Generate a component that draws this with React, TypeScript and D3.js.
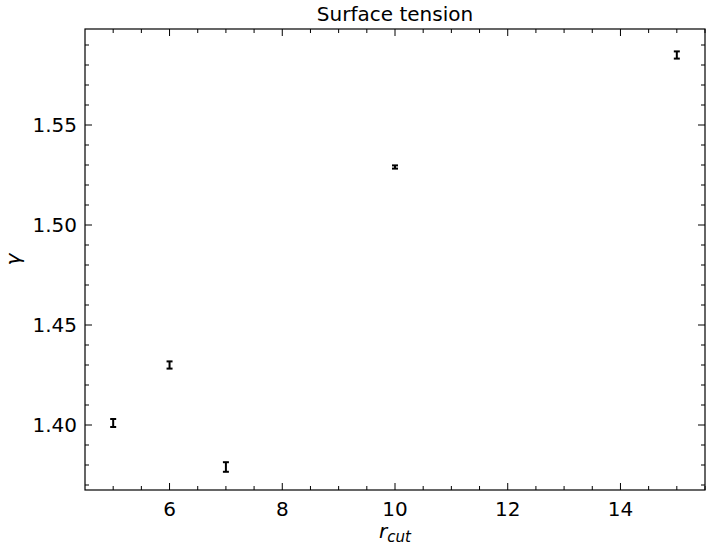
import React from "react";
import * as d3 from "d3";

const xs = [5, 6, 7, 10, 15];
const ys = [1.401, 1.430, 1.379, 1.529, 1.585];
const errs = [0.002, 0.0018, 0.0024, 0.0008, 0.0018];
const xTicks = [6, 8, 10, 12, 14];
const yTicks = [1.40, 1.45, 1.50, 1.55];

export default function App() {
  const W = 710, H = 546;
  const L = 85, R = 705, T = 29, B = 490;
  const x = d3.scaleLinear().domain([4.5, 15.5]).range([L, R]);
  const y = d3.scaleLinear().domain([1.3675, 1.598]).range([B, T]);
  const xMinor = d3.range(5, 15.51, 0.5).filter(v => !xTicks.includes(v));
  const yMinor = d3.range(1.37, 1.598, 0.01).filter(v => !yTicks.some(t => Math.abs(t - v) < 1e-6));
  const font = "DejaVu Sans";
  return (
    <svg width={W} height={H} style={{ position: "absolute", left: 0, top: 0 }} fontFamily={font}>
      <rect x={0} y={0} width={W} height={H} fill="white" />
      <text x={(L + R) / 2} y={21} textAnchor="middle" fontSize={20}>Surface tension</text>
      {xTicks.map(v => (
        <g key={"x" + v}>
          <line x1={x(v)} x2={x(v)} y1={B} y2={B - 7} stroke="black" />
          <line x1={x(v)} x2={x(v)} y1={T} y2={T + 7} stroke="black" />
          <text x={x(v)} y={B + 26} textAnchor="middle" fontSize={20}>{v}</text>
        </g>
      ))}
      {xMinor.map(v => (
        <g key={"xm" + v}>
          <line x1={x(v)} x2={x(v)} y1={B} y2={B - 4} stroke="black" />
          <line x1={x(v)} x2={x(v)} y1={T} y2={T + 4} stroke="black" />
        </g>
      ))}
      {yTicks.map(v => (
        <g key={"y" + v}>
          <line x1={L} x2={L + 7} y1={y(v)} y2={y(v)} stroke="black" />
          <line x1={R} x2={R - 7} y1={y(v)} y2={y(v)} stroke="black" />
          <text x={L - 8} y={y(v) + 7} textAnchor="end" fontSize={20}>{v.toFixed(2)}</text>
        </g>
      ))}
      {yMinor.map(v => (
        <g key={"ym" + v}>
          <line x1={L} x2={L + 4} y1={y(v)} y2={y(v)} stroke="black" />
          <line x1={R} x2={R - 4} y1={y(v)} y2={y(v)} stroke="black" />
        </g>
      ))}
      <rect x={L} y={T} width={R - L} height={B - T} fill="none" stroke="black" strokeWidth={1.2} />
      {xs.map((v, i) => (
        <g key={"p" + i} stroke="black" strokeWidth={2}>
          <line x1={x(v)} x2={x(v)} y1={y(ys[i] - errs[i])} y2={y(ys[i] + errs[i])} />
          <line x1={x(v) - 3} x2={x(v) + 3} y1={y(ys[i] - errs[i])} y2={y(ys[i] - errs[i])} />
          <line x1={x(v) - 3} x2={x(v) + 3} y1={y(ys[i] + errs[i])} y2={y(ys[i] + errs[i])} />
        </g>
      ))}
      <text x={(L + R) / 2} y={538} textAnchor="middle" fontSize={20} fontStyle="italic">
        r<tspan fontSize={15} dy={4}>cut</tspan>
      </text>
      <text transform={`translate(20,${(T + B) / 2}) rotate(-90)`} textAnchor="middle" fontSize={20} fontStyle="italic">γ</text>
    </svg>
  );
}
